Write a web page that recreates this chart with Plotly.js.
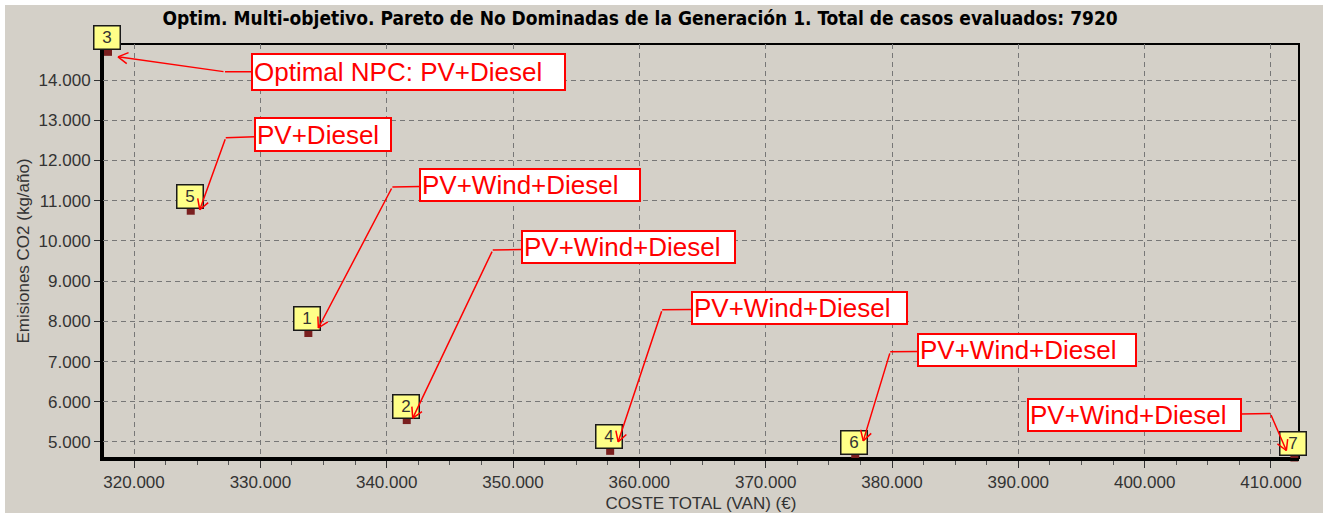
<!DOCTYPE html>
<html>
<head>
<meta charset="utf-8">
<script src="https://cdn.plot.ly/plotly-3.0.1.min.js"></script>
<style>
  html, body { margin: 0; padding: 0; background: #d4d0c8; }
  #chart { width: 1323px; height: 513px; }
  .strip { position: absolute; background: #ffffff; }
</style>
</head>
<body>
<div id="chart"></div>
<div class="strip" style="left:0;top:0;width:1323px;height:5px;"></div>
<div class="strip" style="left:0;top:0;width:5px;height:513px;"></div>
<script>
// ---- data ----
const caseIds = ['1', '2', '3', '4', '5', '6', '7'];
const costeTotal = [333800, 341590, 317940, 357690, 324490, 377090, 411850];   // €
const emisionesCO2 = [7710, 5545, 14700, 4780, 10750, 4630, 4615];            // kg/año
const configLabels = ['PV+Wind+Diesel', 'PV+Wind+Diesel', 'Optimal NPC: PV+Diesel',
                      'PV+Wind+Diesel', 'PV+Diesel', 'PV+Wind+Diesel', 'PV+Wind+Diesel'];

const chartTitle = 'Optim. Multi-objetivo. Pareto de No Dominadas de la Generación 1. Total de casos evaluados: 7920';
const xTitle = 'COSTE TOTAL (VAN) (€)';
const yTitle = 'Emisiones CO2 (kg/año)';

// ---- callout geometry (pixel offsets: tip from point, bend from tip, box centre from bend) ----
const calloutGeom = [
  { tip: [10, -5],  bend: [74, -141],  box: [138, -2], w: 222, h: 34 },
  { tip: [6, -2],   bend: [80, -168],  box: [136, -3], w: 215, h: 34 },
  { tip: [10, 5],   bend: [107, 15],   box: [184, 0],  w: 315, h: 38 },
  { tip: [8, -9],   bend: [44, -132],  box: [137, -2], w: 217, h: 34 },
  { tip: [9, -1],   bend: [26, -72],   box: [97, -3],  w: 138, h: 35 },
  { tip: [8, -16],  bend: [27, -89],   box: [137, -2], w: 220, h: 34 },
  { tip: [-8, -7],  bend: [-16, -37],  box: [-136, 2], w: 215, h: 34 }
];
const ARM_LEN = 13, ARM_ANGLE = 30 * Math.PI / 180;

const FONT = 'Liberation Sans, Arial, sans-serif';
const BG = '#d4d0c8';
const RED = '#ff0000';

const trace = {
  type: 'scatter',
  mode: 'markers',
  x: costeTotal,
  y: emisionesCO2,
  marker: { symbol: 'square', size: 8, color: '#7a1f1f', line: { width: 0 } },
  cliponaxis: false,
  hoverinfo: 'x+y'
};

const annotations = [];
// yellow id boxes
caseIds.forEach((id, i) => {
  annotations.push({
    x: costeTotal[i], y: emisionesCO2[i], xref: 'x', yref: 'y',
    text: id, showarrow: false, xshift: -1, yshift: 14,
    bgcolor: '#ffff88', bordercolor: '#1a1a1a', borderwidth: 1.5, borderpad: 1,
    width: 23, height: 20,
    font: { family: FONT, size: 17, color: '#333333' }
  });
});
// red callouts
const bw = 2, bp = 1;
function line(i, sx, sy, ax, ay) {
  return {
    x: costeTotal[i], y: emisionesCO2[i], xref: 'x', yref: 'y',
    text: '', showarrow: true, arrowhead: 0, arrowwidth: 1.5, arrowcolor: RED,
    xshift: sx, yshift: -sy, ax: ax, ay: ay, standoff: 0
  };
}
configLabels.forEach((lab, i) => {
  const g = calloutGeom[i];
  const bendX = g.tip[0] + g.bend[0];
  const bendY = g.tip[1] + g.bend[1];
  annotations.push({
    x: costeTotal[i], y: emisionesCO2[i], xref: 'x', yref: 'y',
    text: lab, showarrow: true, arrowhead: 0, arrowwidth: 1.5, arrowcolor: RED,
    xshift: bendX, yshift: -bendY, ax: g.box[0], ay: g.box[1], standoff: 0,
    bgcolor: '#ffffff', bordercolor: RED, borderwidth: bw, borderpad: bp,
    width: g.w - 2 * (bw + bp), height: g.h - 2 * (bw + bp), align: 'left', valign: 'middle',
    font: { family: FONT, size: 26, color: RED }
  });
  // main leg
  annotations.push(line(i, g.tip[0], g.tip[1], g.bend[0], g.bend[1]));
  // open arrowhead arms
  const L = Math.hypot(g.bend[0], g.bend[1]);
  const ux = g.bend[0] / L, uy = g.bend[1] / L;
  [ARM_ANGLE, -ARM_ANGLE].forEach(a => {
    const rx = ux * Math.cos(a) - uy * Math.sin(a);
    const ry = ux * Math.sin(a) + uy * Math.cos(a);
    annotations.push(line(i, g.tip[0], g.tip[1], rx * ARM_LEN, ry * ARM_LEN));
  });
});

const layout = {
  width: 1323, height: 513,
  margin: { l: 103, r: 24, t: 44, b: 55, pad: 0 },
  paper_bgcolor: BG, plot_bgcolor: BG,
  separators: ',.',
  showlegend: false,
  title: {
    text: chartTitle,
    x: 0.4838, xanchor: 'center', xref: 'container',
    y: 0.964, yanchor: 'middle', yref: 'container',
    font: { family: 'Liberation Sans Narrow, DejaVu Sans Condensed, Arial Narrow, sans-serif', size: 19, weight: 'bold', color: '#000000' }
  },
  xaxis: {
    range: [317545, 412217], dtick: 10000, tick0: 0, tickformat: ',d',
    showgrid: true, gridcolor: '#777777', gridwidth: 1, griddash: '5px,4px',
    showline: true, linecolor: '#000000', linewidth: 3,
    ticks: 'outside', ticklen: 7, tickwidth: 1, tickcolor: '#333333',
    minor: { dtick: 2500, ticks: 'outside', ticklen: 4, tickcolor: '#555555', showgrid: false },
    tickfont: { family: FONT, size: 17, color: '#333333' },
    zeroline: false, fixedrange: true,
    title: { text: xTitle, standoff: 6, font: { family: FONT, size: 17, color: '#333333' } }
  },
  yaxis: {
    range: [4602, 14895], dtick: 1000, tick0: 0, tickformat: ',d',
    showgrid: true, gridcolor: '#777777', gridwidth: 1, griddash: '5px,4px',
    showline: true, linecolor: '#000000', linewidth: 3,
    ticks: 'outside', ticklen: 6, tickwidth: 1, tickcolor: '#333333',
    tickfont: { family: FONT, size: 17, color: '#333333' },
    zeroline: false, fixedrange: true,
    title: { text: yTitle, standoff: 5, font: { family: FONT, size: 17, color: '#333333' } }
  },
  shapes: [
    { type: 'rect', xref: 'paper', yref: 'paper', x0: 0, x1: 1, y0: 0, y1: 1,
      line: { color: '#000000', width: 2 }, fillcolor: 'rgba(0,0,0,0)', layer: 'below' }
  ],
  annotations: annotations
};

Plotly.newPlot('chart', [trace], layout, { displayModeBar: false, staticPlot: true });
</script>
</body>
</html>
